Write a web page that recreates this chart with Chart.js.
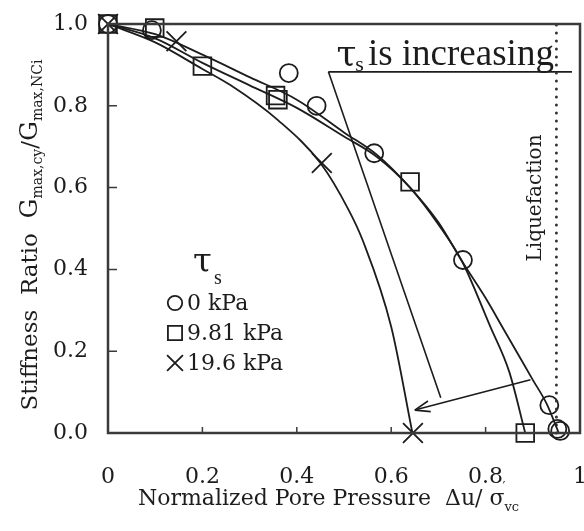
<!DOCTYPE html>
<html>
<head>
<meta charset="utf-8">
<script src="https://cdn.jsdelivr.net/npm/chart.js@4.4.1/dist/chart.umd.min.js"></script>
<style>
  html, body { margin: 0; padding: 0; background: #fff; }
</style>
</head>
<body>
<canvas id="myChart" width="584" height="531"></canvas>
<script>
// measured points, tau_s = 0 kPa (circles)
const pts0 = [
  {x: 0, y: 1.0}, {x: 0.093, y: 0.985}, {x: 0.383, y: 0.88}, {x: 0.442, y: 0.80},
  {x: 0.564, y: 0.684}, {x: 0.752, y: 0.423}, {x: 0.935, y: 0.068},
  {x: 0.952, y: 0.01}, {x: 0.958, y: 0.005}
];
// tau_s = 9.81 kPa (squares)
const pts981 = [
  {x: 0, y: 1.0}, {x: 0.099, y: 0.99}, {x: 0.2, y: 0.897}, {x: 0.355, y: 0.825},
  {x: 0.36, y: 0.815}, {x: 0.64, y: 0.614}, {x: 0.884, y: 0.0}
];
// tau_s = 19.6 kPa (crosses)
const pts196 = [
  {x: 0, y: 1.0}, {x: 0.145, y: 0.958}, {x: 0.453, y: 0.66}, {x: 0.646, y: 0.0}
];

// fitted curves
const fit0 = [
  {x: 0, y: 1.0}, {x: 0.1, y: 0.975}, {x: 0.2, y: 0.925}, {x: 0.3, y: 0.87},
  {x: 0.4, y: 0.815}, {x: 0.5, y: 0.735}, {x: 0.57, y: 0.68}, {x: 0.64, y: 0.6},
  {x: 0.7, y: 0.515}, {x: 0.75, y: 0.42}, {x: 0.8, y: 0.33}, {x: 0.84, y: 0.25},
  {x: 0.9, y: 0.13}, {x: 0.93, y: 0.07}, {x: 0.955, y: 0.0}
];
const fit981 = [
  {x: 0, y: 1.0}, {x: 0.1, y: 0.965}, {x: 0.2, y: 0.905}, {x: 0.3, y: 0.85},
  {x: 0.4, y: 0.795}, {x: 0.5, y: 0.725}, {x: 0.57, y: 0.675}, {x: 0.64, y: 0.6},
  {x: 0.7, y: 0.51}, {x: 0.75, y: 0.42}, {x: 0.81, y: 0.26}, {x: 0.85, y: 0.15},
  {x: 0.884, y: 0.0}
];
const fit196 = [
  {x: 0, y: 1.0}, {x: 0.1, y: 0.955}, {x: 0.2, y: 0.89}, {x: 0.26, y: 0.85},
  {x: 0.36, y: 0.765}, {x: 0.45, y: 0.66}, {x: 0.51, y: 0.545}, {x: 0.54, y: 0.47},
  {x: 0.6, y: 0.26}, {x: 0.645, y: 0.0}
];

const liquefaction = [{x: 0.95, y: 0}, {x: 0.95, y: 1}];
const trendTop = [{x: 0.467, y: 0.883}, {x: 0.983, y: 0.883}];
const trendSlant = [{x: 0.467, y: 0.883}, {x: 0.705, y: 0.086}];
const trendArrow = [{x: 0.895, y: 0.13}, {x: 0.65, y: 0.056}];

const xTicks = [0, 0.2, 0.4, 0.6, 0.8, 1];
const xTickLabels = ['0', '0.2', '0.4', '0.6', '0.8', '1'];
const yTicks = [0, 0.2, 0.4, 0.6, 0.8, 1];
const yTickLabels = ['0.0', '0.2', '0.4', '0.6', '0.8', '1.0'];

const INK = '#1c1c1c';
const SERIF = "'DejaVu Serif', serif";
const TIMES = "'Liberation Serif', serif";

function curve(data) {
  return {data, showLine: true, pointRadius: 0, borderColor: INK, borderWidth: 1.8,
    cubicInterpolationMode: 'monotone', clip: false};
}
function plain(data, extra) {
  return Object.assign({data, showLine: true, pointRadius: 0, borderColor: INK,
    borderWidth: 1.6, clip: false}, extra || {});
}
function marks(label, data, style, r) {
  return {label, data, showLine: false, pointStyle: style, pointRadius: r,
    pointHoverRadius: r, pointBorderWidth: 1.8, pointBorderColor: INK,
    pointBackgroundColor: 'rgba(0,0,0,0)', clip: false, isLegend: true};
}

const decor = {
  id: 'decor',
  afterDraw(chart) {
    const {ctx, chartArea: a, scales: {x, y}} = chart;
    ctx.save();
    // frame
    ctx.strokeStyle = '#3a3a3a';
    ctx.lineWidth = 2.5;
    ctx.strokeRect(a.left, a.top, a.right - a.left, a.bottom - a.top);
    // inward ticks
    ctx.lineWidth = 1.5;
    ctx.beginPath();
    yTicks.slice(1, -1).forEach(v => {
      const p = y.getPixelForValue(v);
      ctx.moveTo(a.left, p); ctx.lineTo(a.left + 9, p);
    });
    xTicks.slice(1, -1).forEach(v => {
      const p = x.getPixelForValue(v);
      ctx.moveTo(p, a.bottom); ctx.lineTo(p, a.bottom - 6);
    });
    ctx.stroke();

    ctx.fillStyle = INK;
    ctx.textBaseline = 'alphabetic';
    ctx.textAlign = 'left';
    // y title
    ctx.save();
    ctx.translate(37, 235);
    ctx.rotate(-Math.PI / 2);
    const ySeg = [
      ['Stiffness  Ratio  ', 23, 0], ['G', 25, 0], ['max,cy', 14, 5],
      ['/', 23, 0], ['G', 25, 0], ['max,NCi', 14, 5]
    ];
    let tot = 0;
    ySeg.forEach(s => { ctx.font = s[1] + 'px ' + SERIF; tot += ctx.measureText(s[0]).width; });
    let cx = -tot / 2;
    ySeg.forEach(s => {
      ctx.font = s[1] + 'px ' + SERIF;
      ctx.fillText(s[0], cx, s[2]);
      cx += ctx.measureText(s[0]).width;
    });
    ctx.restore();

    // x title
    let tx = 138;
    const base = 505;
    ctx.font = '22px ' + SERIF;
    ctx.fillText('Normalized Pore Pressure  Δu/ σ', tx, base);
    tx += ctx.measureText('Normalized Pore Pressure  Δu/ σ').width;
    ctx.font = '13px ' + SERIF;
    ctx.fillText('\u2032', tx - 2, base - 14);
    ctx.fillText('vc', tx, base + 6);

    // legend
    ctx.font = '34px ' + SERIF;
    ctx.fillText('τ', 193, 272);
    ctx.font = '20px ' + TIMES;
    ctx.fillText('s', 214, 284);
    const rows = [303, 333, 363];
    chart.data.datasets.filter(d => d.isLegend).forEach((d, i) => {
      ctx.strokeStyle = INK;
      ctx.fillStyle = 'rgba(0,0,0,0)';
      ctx.lineWidth = 1.8;
      Chart.helpers.drawPoint(ctx, {pointStyle: d.pointStyle, radius: d.pointRadius * 0.8,
        borderWidth: 1.8, rotation: 0}, 175, rows[i]);
      ctx.fillStyle = INK;
      ctx.font = '22px ' + SERIF;
      ctx.textBaseline = 'middle';
      ctx.fillText(d.label, 187, rows[i] + 1);
    });
    ctx.textBaseline = 'alphabetic';

    // tau_s is increasing
    const ax = x.getPixelForValue(trendTop[0].x) + 8;
    const ay = y.getPixelForValue(trendTop[0].y) - 7;
    ctx.font = '36px ' + SERIF;
    ctx.fillText('τ', ax, ay);
    let w = ctx.measureText('τ').width;
    ctx.font = '22px ' + TIMES;
    ctx.fillText('s', ax + w - 1, ay + 6);
    w += ctx.measureText('s').width + 3;
    ctx.font = '37px ' + TIMES;
    ctx.fillText('is increasing', ax + w, ay);

    // arrow head
    const x0 = x.getPixelForValue(trendArrow[0].x), y0 = y.getPixelForValue(trendArrow[0].y);
    const x1 = x.getPixelForValue(trendArrow[1].x), y1 = y.getPixelForValue(trendArrow[1].y);
    const ang = Math.atan2(y1 - y0, x1 - x0);
    ctx.strokeStyle = INK;
    ctx.lineWidth = 1.6;
    ctx.beginPath();
    [0.35, -0.35].forEach(d => {
      ctx.moveTo(x1, y1);
      ctx.lineTo(x1 - 16 * Math.cos(ang + d), y1 - 16 * Math.sin(ang + d));
    });
    ctx.stroke();

    // Liquefaction
    ctx.save();
    ctx.translate(x.getPixelForValue(liquefaction[0].x) - 21, 198);
    ctx.rotate(-Math.PI / 2);
    ctx.font = '20px ' + SERIF;
    ctx.textAlign = 'center';
    ctx.textBaseline = 'middle';
    ctx.fillText('Liquefaction', 0, 0);
    ctx.restore();

    ctx.restore();
  }
};

const ctx = document.getElementById('myChart');
const PLOT = new Chart(ctx, {
  type: 'scatter',
  data: {
    datasets: [
      curve(fit0), curve(fit981), curve(fit196),
      plain(liquefaction, {borderDash: [0, 8], borderWidth: 3, borderCapStyle: 'round', borderColor: '#333'}),
      plain(trendTop), plain(trendSlant), plain(trendArrow),
      marks('0 kPa', pts0, 'circle', 9),
      marks('9.81 kPa', pts981, 'rect', 12.5),
      marks('19.6 kPa', pts196, 'crossRot', 14)
    ]
  },
  options: {
    responsive: false,
    animation: false,
    devicePixelRatio: 1,
    layout: {autoPadding: false, padding: {top: 24, right: 4, left: 0, bottom: 0}},
    plugins: {legend: {display: false}, tooltip: {enabled: false}},
    scales: {
      x: {
        type: 'linear', min: 0, max: 1,
        grid: {display: false, drawTicks: false},
        border: {display: false},
        afterBuildTicks: s => { s.ticks = xTicks.map(v => ({value: v})); },
        ticks: {
          callback: (v, i) => xTickLabels[i],
          font: {family: SERIF, size: 22}, color: INK, padding: 31,
          maxRotation: 0, autoSkip: false
        },
        afterFit: s => { s.height = 98; s.paddingLeft = 0; s.paddingRight = 0; }
      },
      y: {
        type: 'linear', min: 0, max: 1,
        grid: {display: false, drawTicks: false},
        border: {display: false},
        afterBuildTicks: s => { s.ticks = yTicks.map(v => ({value: v})); },
        ticks: {
          callback: (v, i) => yTickLabels[i],
          font: {family: SERIF, size: 22}, color: INK, padding: 20
        },
        afterFit: s => { s.width = 108; s.paddingTop = 0; s.paddingBottom = 0; }
      }
    }
  },
  plugins: [decor]
});
</script>
</body>
</html>
